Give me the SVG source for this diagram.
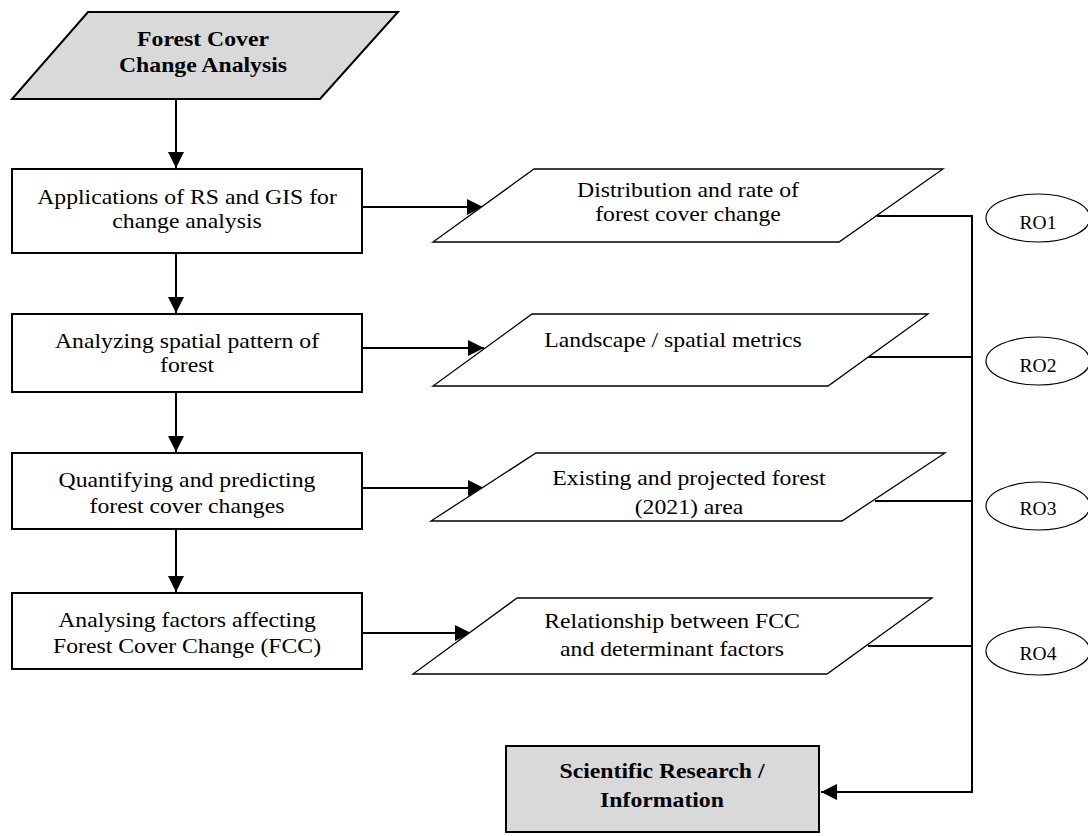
<svg xmlns="http://www.w3.org/2000/svg" width="1088" height="836" viewBox="0 0 1088 836">
<style>
.t{font-family:"Liberation Serif","Times New Roman",serif;font-size:21px;fill:#000;text-anchor:middle}
.b{font-weight:bold}
.ro{font-family:"Liberation Serif","Times New Roman",serif;font-size:19.5px;fill:#000;text-anchor:middle}
.box{fill:#fff;stroke:#000;stroke-width:2}
.gray{fill:#d9d9d9;stroke:#000;stroke-width:2}
.para{fill:#fff;stroke:#000;stroke-width:1.3}
.ell{fill:#fff;stroke:#000;stroke-width:1.2}
.ln{fill:none;stroke:#000;stroke-width:2}
</style>
<defs>
<marker id="ah" markerWidth="8" markerHeight="8" viewBox="0 0 8 8" refX="8" refY="4" orient="auto" markerUnits="strokeWidth">
<path d="M0,0 L8,4 L0,8 Z" fill="#000"/>
</marker>
<clipPath id="clipP3"><rect x="430" y="453" width="520" height="66"/></clipPath>
</defs>

<g id="connectors">
<line class="ln" x1="176" y1="99" x2="176" y2="168" marker-end="url(#ah)"/>
<line class="ln" x1="176" y1="253" x2="176" y2="313" marker-end="url(#ah)"/>
<line class="ln" x1="176" y1="392" x2="176" y2="452" marker-end="url(#ah)"/>
<line class="ln" x1="176" y1="529" x2="176" y2="592" marker-end="url(#ah)"/>
<line class="ln" x1="362" y1="207" x2="483" y2="207" marker-end="url(#ah)"/>
<line class="ln" x1="362" y1="348" x2="484" y2="348" marker-end="url(#ah)"/>
<line class="ln" x1="362" y1="488" x2="484" y2="488" marker-end="url(#ah)"/>
<line class="ln" x1="362" y1="633" x2="471" y2="633" marker-end="url(#ah)"/>
<polyline class="ln" points="877,216 972,216 972,792 821,792" marker-end="url(#ah)"/>
<line class="ln" x1="868" y1="357" x2="972" y2="357"/>
<line class="ln" x1="875" y1="501" x2="972" y2="501"/>
<line class="ln" x1="868" y1="646" x2="972" y2="646"/>
</g>

<g id="start">
<polygon class="gray" stroke-width="1.5" points="88,12 398,12 320,99 12,99"/>
<text class="t b" transform="translate(203 46) scale(1.13 1)">Forest Cover</text>
<text class="t b" transform="translate(203 72) scale(1.13 1)">Change Analysis</text>
</g>

<g id="box1">
<rect class="box" x="12" y="169" width="350" height="84"/>
<text class="t" transform="translate(187 204) scale(1.13 1)">Applications of RS and GIS for</text>
<text class="t" transform="translate(187 228) scale(1.13 1)">change analysis</text>
</g>

<g id="box2">
<rect class="box" x="12" y="314" width="350" height="78"/>
<text class="t" transform="translate(187 348) scale(1.13 1)">Analyzing spatial pattern of</text>
<text class="t" transform="translate(187 372) scale(1.13 1)">forest</text>
</g>

<g id="box3">
<rect class="box" x="12" y="453" width="350" height="76"/>
<text class="t" transform="translate(187 487) scale(1.13 1)">Quantifying and predicting</text>
<text class="t" transform="translate(187 513) scale(1.13 1)">forest cover changes</text>
</g>

<g id="box4">
<rect class="box" x="12" y="593" width="350" height="76"/>
<text class="t" transform="translate(187 627) scale(1.13 1)">Analysing factors affecting</text>
<text class="t" transform="translate(187 653) scale(1.13 1)">Forest Cover Change (FCC)</text>
</g>

<g id="out1">
<polygon class="para" stroke-width="1.8" points="534,169 943,169 839,242 433,242"/>
<text class="t" transform="translate(688 197) scale(1.13 1)">Distribution and rate of</text>
<text class="t" transform="translate(688 221) scale(1.13 1)">forest cover change</text>
</g>

<g id="out2">
<polygon class="para" points="532,314 928,314 828,386 433,386"/>
<text class="t" transform="translate(673 347) scale(1.13 1)">Landscape / spatial metrics</text>
</g>

<g id="out3">
<polygon class="para" points="536,453 945,453 842,521 431,521"/>
<text class="t" transform="translate(689 485) scale(1.13 1)">Existing and projected forest</text>
<g clip-path="url(#clipP3)">
<text class="t" transform="translate(689 514) scale(1.13 1)">(2021) area</text>
</g>
</g>

<g id="out4">
<polygon class="para" points="517,598 932,598 827,674 413,674"/>
<text class="t" transform="translate(672 628) scale(1.13 1)">Relationship between FCC</text>
<text class="t" transform="translate(672 656) scale(1.13 1)">and determinant factors</text>
</g>

<g id="result">
<rect class="gray" x="506" y="746" width="313" height="86"/>
<text class="t b" transform="translate(662 778) scale(1.13 1)">Scientific Research /</text>
<text class="t b" transform="translate(662 807) scale(1.13 1)">Information</text>
</g>

<g id="ro1">
<ellipse class="ell" cx="1038" cy="218" rx="52" ry="24"/>
<text class="ro" x="1038" y="229">RO1</text>
</g>
<g id="ro2">
<ellipse class="ell" cx="1038" cy="361" rx="52" ry="24"/>
<text class="ro" x="1038" y="372">RO2</text>
</g>
<g id="ro3">
<ellipse class="ell" cx="1038" cy="506" rx="52" ry="24"/>
<text class="ro" x="1038" y="515">RO3</text>
</g>
<g id="ro4">
<ellipse class="ell" cx="1038" cy="651" rx="52" ry="24"/>
<text class="ro" x="1038" y="660">RO4</text>
</g>
</svg>
